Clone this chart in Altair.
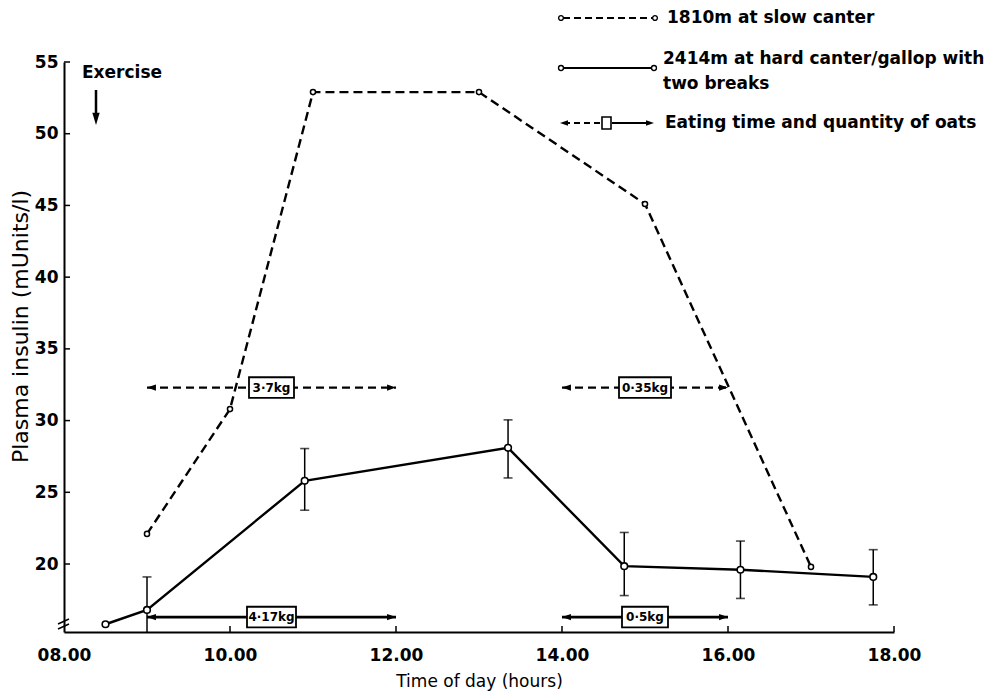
import altair as alt
import pandas as pd

# ---------------- data ----------------
slow_time = [9.0, 10.0, 11.0, 13.0, 15.0, 17.0]
slow_insulin = [22.1, 30.8, 52.9, 52.9, 45.1, 19.8]

hard_time = [8.5, 9.0, 10.9, 13.35, 14.75, 16.15, 17.75]
hard_insulin = [15.8, 16.8, 25.8, 28.1, 19.85, 19.6, 19.1]
hard_err_low = [None, 14.5, 23.75, 26.0, 17.8, 17.6, 17.15]
hard_err_high = [None, 19.1, 28.05, 30.05, 22.2, 21.6, 21.0]

eat_start = [9.0, 14.0, 9.0, 14.0]
eat_end = [12.0, 16.0, 12.0, 16.0]
eat_label = ["3·7kg", "0·35kg", "4·17kg", "0·5kg"]
eat_group = ["slow", "slow", "hard", "hard"]

x_ticks = [8, 10, 12, 14, 16, 18]
y_ticks = [20, 25, 30, 35, 40, 45, 50, 55]

legend_slow = "1810m at slow canter"
legend_hard = ["2414m at hard canter/gallop with", "two breaks"]
legend_eat = "Eating time and quantity of oats"
exercise_text = "Exercise"

# ---------------- layout / style ----------------
W, H = 830, 570
XD = [8, 18]
YD = [15.26, 55]
PX_PER_HR = W / (XD[1] - XD[0])
EAT_Y = {"slow": 32.3, "hard": 16.3}
BOX_W_PX = {"3·7kg": 45, "0·35kg": 52, "4·17kg": 49, "0·5kg": 46}
BOX_HALF_H = 0.72
FONT = "DejaVu Sans"
ARROW_L = "M0,0L2,-0.7L2,0.7Z"
ARROW_R = "M0,0L-2,-0.7L-2,0.7Z"
ARROW_D = "M0,0L-0.6,-2L0.6,-2Z"

xs = alt.Scale(domain=XD, nice=False, zero=False)
ys = alt.Scale(domain=YD, nice=False, zero=False)

XAXIS = alt.Axis(values=x_ticks, labelExpr="(datum.value < 10 ? '0' : '') + datum.value + '.00'",
                 title="Time of day (hours)", ticks=False, grid=False, domainWidth=2,
                 domainColor="black", labelFontSize=17, labelFontWeight="bold", labelPadding=15,
                 labelColor="black", titleFontSize=17, titlePadding=10, titleColor="black",
                 titleFontWeight="normal", labelFont=FONT, titleFont=FONT, labelFlush=False)
YAXIS = alt.Axis(values=y_ticks, title="Plasma insulin (mUnits/l)", ticks=False, grid=False,
                 domainWidth=2, domainColor="black", labelFontSize=17, labelFontWeight="bold",
                 labelPadding=6, labelColor="black", titleFontSize=22, titleColor="black",
                 titleFontWeight="normal", titleX=-37, titleY=264, titleBaseline="alphabetic",
                 titleAngle=270, titleAlign="center",
                 labelFont=FONT, titleFont=FONT, labelFlush=False)


def X(f):
    return alt.X(f, type="quantitative", scale=xs, axis=XAXIS)


def Y(f):
    return alt.Y(f, type="quantitative", scale=ys, axis=YAXIS)


slow_df = pd.DataFrame({"t": slow_time, "v": slow_insulin})
hard_df = pd.DataFrame({"t": hard_time, "v": hard_insulin, "lo": hard_err_low, "hi": hard_err_high})
err_df = hard_df.dropna(subset=["hi"])

eat_df = pd.DataFrame({"s": eat_start, "e": eat_end, "label": eat_label, "g": eat_group})
eat_df["y"] = eat_df["g"].map(EAT_Y)
eat_df["mid"] = (eat_df["s"] + eat_df["e"]) / 2
eat_df["bw"] = eat_df["label"].map(BOX_W_PX) / 2 / PX_PER_HR
eat_df["bx1"] = eat_df["mid"] - eat_df["bw"]
eat_df["bx2"] = eat_df["mid"] + eat_df["bw"]
eat_df["by1"] = eat_df["y"] - BOX_HALF_H
eat_df["by2"] = eat_df["y"] + BOX_HALF_H

layers = []

# main lines
layers.append(alt.Chart(slow_df).mark_line(color="black", strokeWidth=2.4, strokeDash=[9, 5])
              .encode(x=X("t"), y=Y("v")))
layers.append(alt.Chart(hard_df).mark_line(color="black", strokeWidth=2.4)
              .encode(x=X("t"), y=Y("v")))

# error bars
layers.append(alt.Chart(err_df).mark_rule(color="black", strokeWidth=1.5, clip=True)
              .encode(x=X("t"), y=Y("lo"), y2="hi"))
layers.append(alt.Chart(err_df).mark_tick(color="black", thickness=1.6, size=9, orient="horizontal", clip=True)
              .encode(x=X("t"), y=Y("hi")))
layers.append(alt.Chart(err_df).mark_tick(color="black", thickness=1.6, size=9, orient="horizontal", clip=True)
              .encode(x=X("t"), y=Y("lo")))

# points
layers.append(alt.Chart(slow_df).mark_point(shape="circle", filled=True, fill="white", stroke="black",
                                             strokeWidth=1.5, size=26, opacity=1)
              .encode(x=X("t"), y=Y("v")))
layers.append(alt.Chart(hard_df).mark_point(shape="circle", filled=True, fill="white", stroke="black",
                                             strokeWidth=1.6, size=44, opacity=1)
              .encode(x=X("t"), y=Y("v")))

# eating arrows
eat_slow = eat_df[eat_df["g"] == "slow"]
eat_hard = eat_df[eat_df["g"] == "hard"]
layers.append(alt.Chart(eat_slow).mark_rule(color="black", strokeWidth=2.3, strokeDash=[8, 5])
              .encode(x=X("s"), x2="e", y=Y("y")))
layers.append(alt.Chart(eat_hard).mark_rule(color="black", strokeWidth=2.6)
              .encode(x=X("s"), x2="e", y=Y("y")))
layers.append(alt.Chart(eat_df).mark_point(shape=ARROW_L, filled=True, color="black", size=80, opacity=1)
              .encode(x=X("s"), y=Y("y")))
layers.append(alt.Chart(eat_df).mark_point(shape=ARROW_R, filled=True, color="black", size=80, opacity=1)
              .encode(x=X("e"), y=Y("y")))
layers.append(alt.Chart(eat_df).mark_rect(fill="white", stroke="black", strokeWidth=1.8)
              .encode(x=X("bx1"), x2="bx2", y=Y("by1"), y2="by2"))
layers.append(alt.Chart(eat_df).mark_text(font=FONT, fontSize=12, fontWeight="bold", color="black")
              .encode(x=X("mid"), y=Y("y"), text="label:N"))

# inward axis ticks
layers.append(alt.Chart(pd.DataFrame({"v": y_ticks})).mark_rule(color="black", strokeWidth=1.5)
              .encode(y=Y("v"), x=alt.value(0), x2=alt.value(6)))
layers.append(alt.Chart(pd.DataFrame({"t": x_ticks[1:]})).mark_rule(color="black", strokeWidth=1.5)
              .encode(x=X("t"), y=alt.value(H), y2=alt.value(H - 6)))

one = pd.DataFrame({"k": [0]})

# axis break marks
brk = pd.DataFrame({"x1": [-6, -6], "x2": [5, 5], "y1": [562, 567], "y2": [557, 562]})
layers.append(alt.Chart(brk).mark_rule(color="black", strokeWidth=1.5)
              .encode(x=alt.X("x1:Q", scale=None), x2="x2:Q", y=alt.Y("y1:Q", scale=None), y2="y2:Q"))

# Exercise annotation
layers.append(alt.Chart(one).mark_text(text=exercise_text, font=FONT, fontSize=17, fontWeight="bold",
                                        align="left", baseline="middle", color="black")
              .encode(x=alt.value(18), y=alt.value(11)))
layers.append(alt.Chart(one).mark_rule(color="black", strokeWidth=2.5)
              .encode(x=alt.value(32), y=alt.value(28), y2=alt.value(56)))
layers.append(alt.Chart(one).mark_point(shape=ARROW_D, filled=True, color="black", size=150, opacity=1)
              .encode(x=alt.value(32), y=alt.value(63)))

# legend row 1 (dashed)
LEG_FS = 17
layers.append(alt.Chart(one).mark_rule(color="black", strokeWidth=2, strokeDash=[7, 4])
              .encode(x=alt.value(499), x2=alt.value(589), y=alt.value(-44)))
layers.append(alt.Chart(pd.DataFrame({"px": [497, 591]})).mark_point(shape="circle", filled=True, fill="white",
                                                                      stroke="black", strokeWidth=1.4, size=22, opacity=1)
              .encode(x=alt.X("px:Q", scale=None), y=alt.value(-44)))
layers.append(alt.Chart(one).mark_text(text=legend_slow, font=FONT, fontSize=LEG_FS, fontWeight="bold",
                                        align="left", baseline="middle", color="black")
              .encode(x=alt.value(603), y=alt.value(-44)))

# legend row 2 (solid)
layers.append(alt.Chart(one).mark_rule(color="black", strokeWidth=2.2)
              .encode(x=alt.value(498), x2=alt.value(589), y=alt.value(6)))
layers.append(alt.Chart(pd.DataFrame({"px": [497, 590]})).mark_point(shape="circle", filled=True, fill="white",
                                                                      stroke="black", strokeWidth=1.4, size=24, opacity=1)
              .encode(x=alt.X("px:Q", scale=None), y=alt.value(6)))
layers.append(alt.Chart(pd.DataFrame({"txt": legend_hard, "py": [-3, 22]}))
              .mark_text(font=FONT, fontSize=LEG_FS, fontWeight="bold", align="left", baseline="middle",
                         color="black")
              .encode(x=alt.value(599), y=alt.Y("py:Q", scale=None), text="txt:N"))

# legend row 3 (eating symbol)
layers.append(alt.Chart(one).mark_rule(color="black", strokeWidth=2, strokeDash=[6, 4])
              .encode(x=alt.value(500), x2=alt.value(536), y=alt.value(61)))
layers.append(alt.Chart(one).mark_rule(color="black", strokeWidth=2.2)
              .encode(x=alt.value(548), x2=alt.value(585), y=alt.value(61)))
layers.append(alt.Chart(one).mark_point(shape=ARROW_L, filled=True, color="black", size=64, opacity=1)
              .encode(x=alt.value(496), y=alt.value(61)))
layers.append(alt.Chart(one).mark_point(shape=ARROW_R, filled=True, color="black", size=64, opacity=1)
              .encode(x=alt.value(590), y=alt.value(61)))
layers.append(alt.Chart(one).mark_rect(fill="white", stroke="black", strokeWidth=1.6)
              .encode(x=alt.value(538), x2=alt.value(547), y=alt.value(55), y2=alt.value(67)))
layers.append(alt.Chart(one).mark_text(text=legend_eat, font=FONT, fontSize=LEG_FS, fontWeight="bold",
                                        align="left", baseline="middle", color="black")
              .encode(x=alt.value(601), y=alt.value(61)))

chart = alt.layer(*layers).properties(
    width=W, height=H,
    padding={"left": 56, "top": 54, "right": 99, "bottom": 60},
    autosize=alt.AutoSizeParams(type="none"),
    background="white",
).configure_view(stroke=None)

chart.save("out.html", embed_options={"renderer": "svg", "actions": False})
